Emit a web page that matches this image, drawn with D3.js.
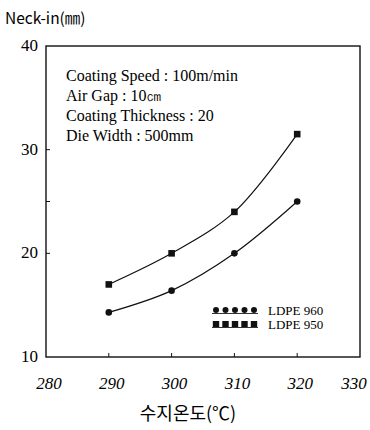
<!DOCTYPE html>
<html>
<head>
<meta charset="utf-8">
<script src="https://cdn.jsdelivr.net/npm/d3@7"></script>
<style>
  body { margin: 0; background: #fff; }
</style>
</head>
<body>
<svg id="chart" width="370" height="430"></svg>
<script>
// temperature (x) values
var temps = [290, 300, 310, 320];
// neck-in values per series
var ldpe960 = [14.3, 16.4, 20, 25];
var ldpe950 = [17, 20, 24, 31.5];
var xTicks = [280, 290, 300, 310, 320, 330];
var yTicks = [10, 20, 30, 40];
var notes = ["Coating Speed : 100m/min", "Air Gap : 10㎝", "Coating Thickness : 20", "Die Width : 500mm"];
var seriesNames = ["LDPE 960", "LDPE 950"];

var svg = d3.select("#chart");
var serif = "'Liberation Serif', 'DejaVu Serif', serif";
var sans = "'Noto Sans CJK KR', 'Noto Sans', sans-serif";

var x = d3.scaleLinear().domain([280, 330]).range([46, 360]);
var y = d3.scaleLinear().domain([10, 40]).range([357, 46]);

// frame
svg.append("rect")
  .attr("x", x(280)).attr("y", y(40))
  .attr("width", x(330) - x(280)).attr("height", y(10) - y(40))
  .attr("fill", "none").attr("stroke", "#111").attr("stroke-width", 1.4);

// inward ticks
svg.append("g").selectAll("line").data([20, 25, 30]).enter().append("line")
  .attr("x1", x(280)).attr("x2", x(280) + 4)
  .attr("y1", function(d) { return y(d); }).attr("y2", function(d) { return y(d); })
  .attr("stroke", "#111").attr("stroke-width", 1);
svg.append("g").selectAll("line").data([290, 300, 310, 320]).enter().append("line")
  .attr("x1", function(d) { return x(d); }).attr("x2", function(d) { return x(d); })
  .attr("y1", y(10)).attr("y2", y(10) - 4)
  .attr("stroke", "#111").attr("stroke-width", 1);

// tick labels
svg.append("g").selectAll("text").data(yTicks).enter().append("text")
  .attr("x", 38).attr("y", function(d) { return y(d) + 5; })
  .attr("text-anchor", "end")
  .style("font-family", serif).style("font-size", "17px")
  .text(function(d) { return d; });
svg.append("g").selectAll("text").data(xTicks).enter().append("text")
  .attr("x", function(d) { return Math.min(x(d) + 3, 354); }).attr("y", 389)
  .attr("text-anchor", "middle")
  .style("font-family", serif).style("font-size", "17px").style("font-style", "italic")
  .text(function(d) { return d; });

// axis titles
svg.append("text").attr("x", 5).attr("y", 24)
  .style("font-family", sans).style("font-size", "15.5px")
  .text("Neck-in(㎜)");
svg.append("text").attr("x", 188).attr("y", 420)
  .attr("text-anchor", "middle")
  .style("font-family", sans).style("font-size", "18px")
  .text("수지온도(℃)");

// conditions
svg.append("g").selectAll("text").data(notes).enter().append("text")
  .attr("x", 66).attr("y", function(d, i) { return 81 + i * 20; })
  .style("font-family", serif).style("font-size", "16px")
  .text(function(d) { return d; });

// curves
var line = d3.line()
  .x(function(d, i) { return x(temps[i]); })
  .y(function(d) { return y(d); })
  .curve(d3.curveCatmullRom.alpha(0.5));

[ldpe960, ldpe950].forEach(function(s) {
  svg.append("path").datum(s).attr("d", line)
    .attr("fill", "none").attr("stroke", "#111").attr("stroke-width", 1.2);
});

svg.append("g").selectAll("circle").data(ldpe960).enter().append("circle")
  .attr("cx", function(d, i) { return x(temps[i]); })
  .attr("cy", function(d) { return y(d); })
  .attr("r", 3.3).attr("fill", "#111");
svg.append("g").selectAll("rect").data(ldpe950).enter().append("rect")
  .attr("x", function(d, i) { return x(temps[i]) - 3.3; })
  .attr("y", function(d) { return y(d) - 3.3; })
  .attr("width", 6.6).attr("height", 6.6).attr("fill", "#111");

// legend
var legY = [310, 324];
var sampleX = d3.range(5).map(function(i) { return 216 + i * 9.5; });
seriesNames.forEach(function(name, k) {
  var g = svg.append("g");
  g.append("line").attr("x1", 212).attr("x2", 258)
    .attr("y1", legY[k] + 3.5).attr("y2", legY[k] + 3.5)
    .attr("stroke", "#333").attr("stroke-width", 1);
  if (k === 0) {
    g.selectAll("circle").data(sampleX).enter().append("circle")
      .attr("cx", function(d) { return d; }).attr("cy", legY[k])
      .attr("r", 3).attr("fill", "#111");
  } else {
    g.selectAll("rect").data(sampleX).enter().append("rect")
      .attr("x", function(d) { return d - 3.2; }).attr("y", legY[k] - 3)
      .attr("width", 6.4).attr("height", 6).attr("fill", "#111");
  }
  g.append("text").attr("x", 268).attr("y", legY[k] + 4.5)
    .style("font-family", serif).style("font-size", "13px")
    .text(name);
});
</script>
</body>
</html>
